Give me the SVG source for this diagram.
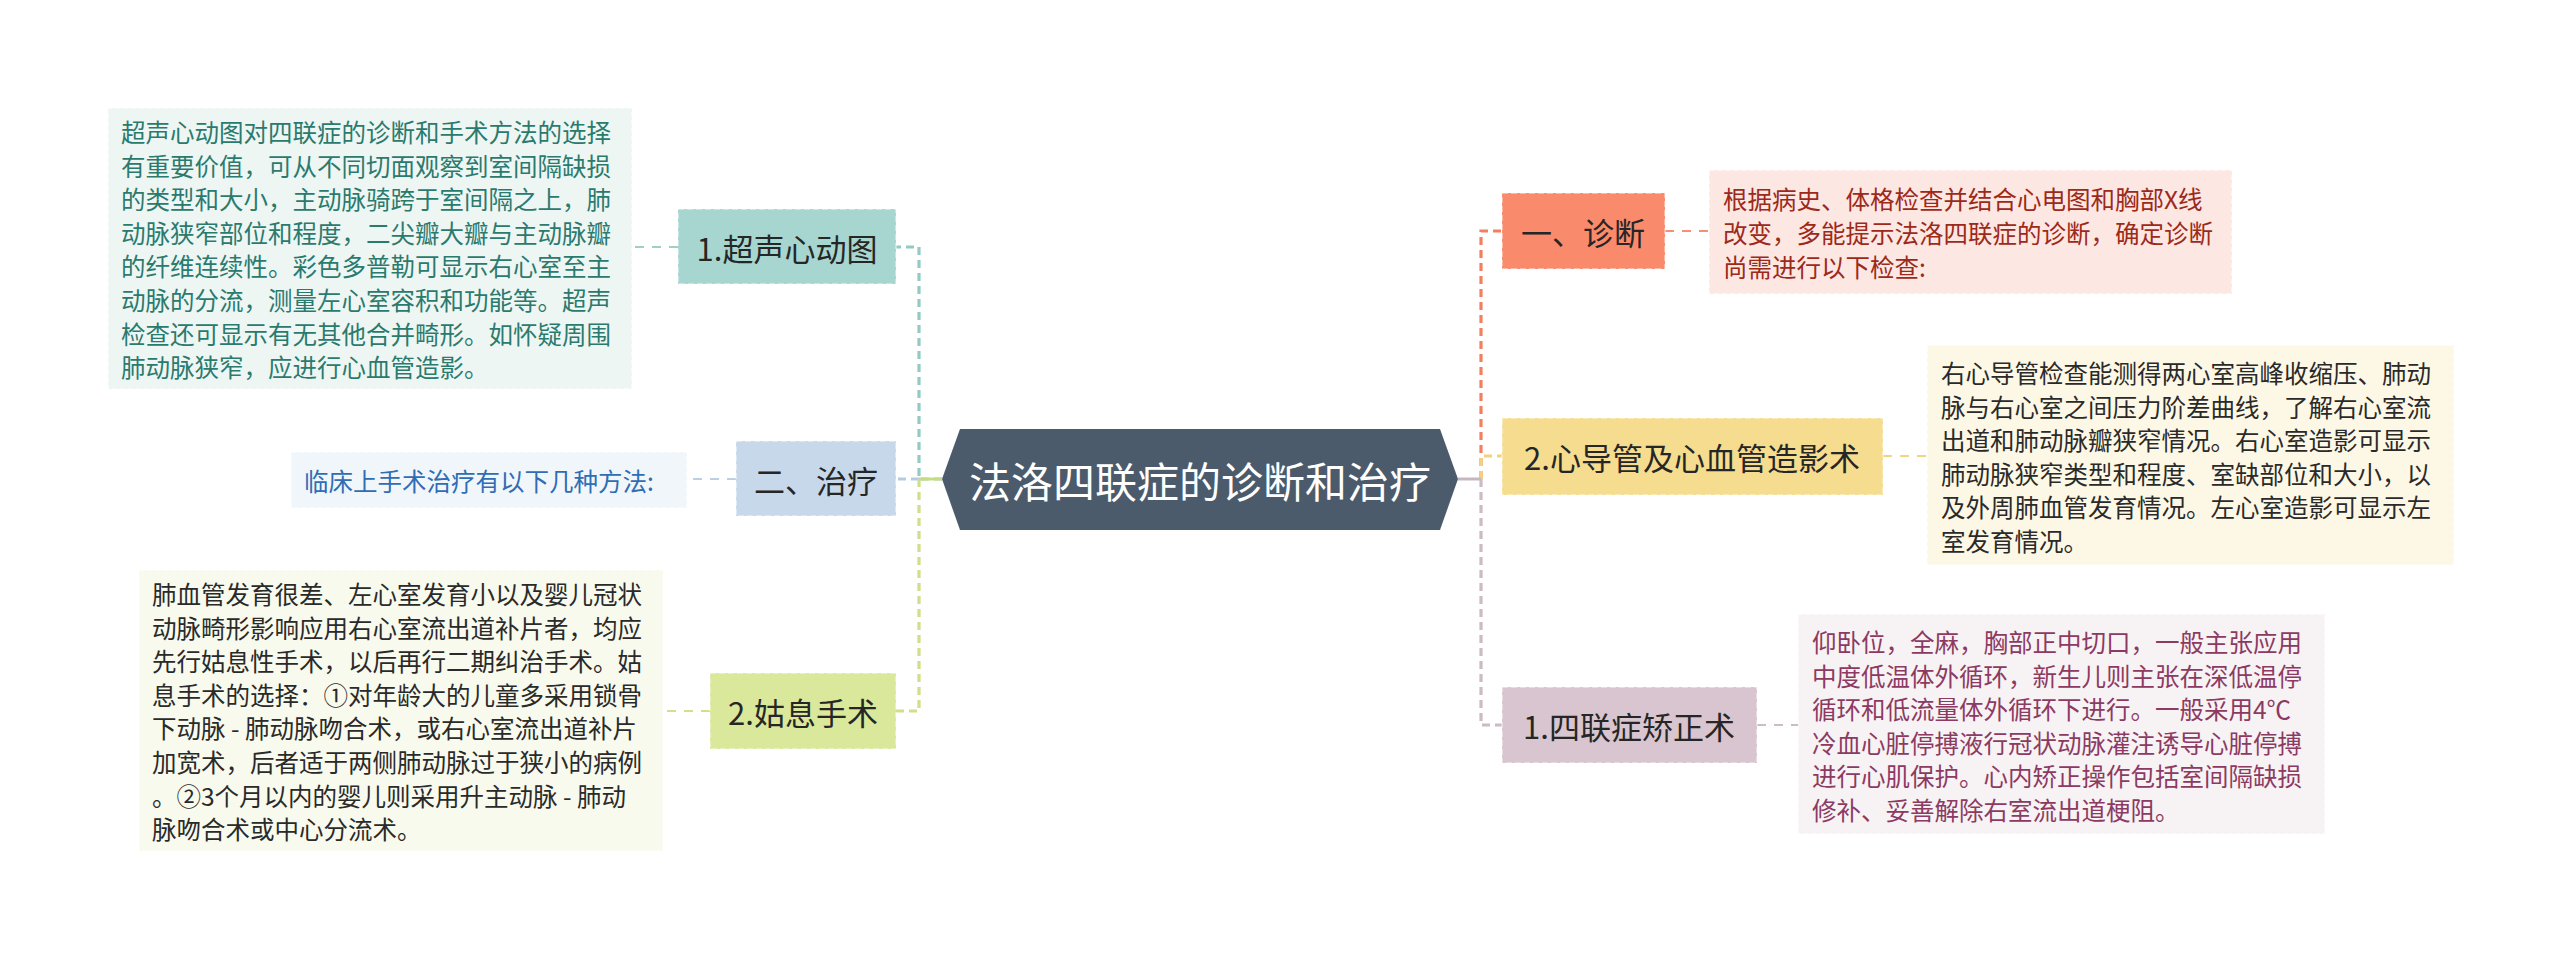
<svg xmlns="http://www.w3.org/2000/svg" width="2560" height="959" viewBox="0 0 2560 959">
<style>
text{font-family:"Noto Sans CJK SC","Noto Sans",sans-serif;}
.lbl{font-size:31px;fill:#262626;text-anchor:middle;dominant-baseline:central;}
.body{font-size:24.5px;}
.node{stroke:#ffffff;stroke-opacity:0.55;stroke-width:1.5;stroke-dasharray:6 3;}
.box{stroke:#ffffff;stroke-opacity:0.7;stroke-width:1.5;stroke-dasharray:5 3;}
.br{fill:none;stroke-width:3.2;stroke-dasharray:8 5;}
.lk{fill:none;stroke-width:2;stroke-dasharray:9 8;}
</style>
<rect width="2560" height="959" fill="#ffffff"/>
<g id="connectors">
  <path class="br" stroke="#93cbc3" d="M942,479 H919 V247 H896"/>
  <path class="br" stroke="#b6cbe2" d="M919,479 H896"/>
  <path class="br" stroke="#cfe08a" d="M919,479 V711 H896"/>
  <path d="M919,479 H942" stroke="#c8dc7e" stroke-width="3" fill="none"/>
  <path class="br" stroke="#f2805f" d="M1481,479 V231 H1502"/>
  <path class="br" stroke="#f1d37e" d="M1481,479 V456 H1502"/>
  <path class="br" stroke="#ccbac4" d="M1481,479 V725 H1502"/>
  <path d="M1458,479 H1481" stroke="#c6b6c0" stroke-width="3" fill="none"/>
  <path class="lk" stroke="#a0cfc8" d="M678,247 H632"/>
  <path class="lk" stroke="#bccfe4" d="M736,479 H687"/>
  <path class="lk" stroke="#d0e08e" d="M710,711 H663"/>
  <path class="lk" stroke="#f39077" d="M1665,231 H1709"/>
  <path class="lk" stroke="#f1d581" d="M1883,456 H1927"/>
  <path class="lk" stroke="#cdbcc6" d="M1757,725 H1798"/>
</g>
<g id="center">
  <polygon points="942,479 960,429 1440,429 1458,479 1440,530 960,530" fill="#4b5b6b"/>
  <text x="1200" y="479" font-size="42" fill="#ffffff" text-anchor="middle" dominant-baseline="central">法洛四联症的诊断和治疗</text>
</g>
<g id="n-echo">
  <rect class="node" x="678" y="209" width="218" height="75" fill="#a6d6cf"/>
  <text class="lbl" x="787" y="247">1.超声心动图</text>
</g>
<g id="t-echo">
  <rect class="box" x="108" y="108" width="524" height="281" fill="#eef6f4"/>
  <text class="body" fill="#2b7a6e" dominant-baseline="central">
    <tspan x="121" y="131">超声心动图对四联症的诊断和手术方法的选择</tspan>
    <tspan x="121" y="164.6">有重要价值，可从不同切面观察到室间隔缺损</tspan>
    <tspan x="121" y="198.2">的类型和大小，主动脉骑跨于室间隔之上，肺</tspan>
    <tspan x="121" y="231.8">动脉狭窄部位和程度，二尖瓣大瓣与主动脉瓣</tspan>
    <tspan x="121" y="265.4">的纤维连续性。彩色多普勒可显示右心室至主</tspan>
    <tspan x="121" y="299">动脉的分流，测量左心室容积和功能等。超声</tspan>
    <tspan x="121" y="332.6">检查还可显示有无其他合并畸形。如怀疑周围</tspan>
    <tspan x="121" y="366.2">肺动脉狭窄，应进行心血管造影。</tspan>
  </text>
</g>
<g id="n-treat">
  <rect class="node" x="736" y="441" width="160" height="75" fill="#c6d8ea"/>
  <text class="lbl" x="816" y="479">二、治疗</text>
</g>
<g id="t-treat">
  <rect class="box" x="291" y="452" width="396" height="56" fill="#f1f6fb"/>
  <text class="body" fill="#2f6db5" x="304" y="480" dominant-baseline="central">临床上手术治疗有以下几种方法:</text>
</g>
<g id="n-pall">
  <rect class="node" x="710" y="673" width="186" height="76" fill="#d9e89a"/>
  <text class="lbl" x="803" y="711">2.姑息手术</text>
</g>
<g id="t-pall">
  <rect class="box" x="139" y="570" width="524" height="281" fill="#f8faee"/>
  <text class="body" fill="#2a2a2a" dominant-baseline="central">
    <tspan x="152" y="593">肺血管发育很差、左心室发育小以及婴儿冠状</tspan>
    <tspan x="152" y="626.6">动脉畸形影响应用右心室流出道补片者，均应</tspan>
    <tspan x="152" y="660.2">先行姑息性手术，以后再行二期纠治手术。姑</tspan>
    <tspan x="152" y="693.8">息手术的选择：①对年龄大的儿童多采用锁骨</tspan>
    <tspan x="152" y="727.4">下动脉 - 肺动脉吻合术，或右心室流出道补片</tspan>
    <tspan x="152" y="761">加宽术，后者适于两侧肺动脉过于狭小的病例</tspan>
    <tspan x="152" y="794.6">。②3个月以内的婴儿则采用升主动脉 - 肺动</tspan>
    <tspan x="152" y="828.2">脉吻合术或中心分流术。</tspan>
  </text>
</g>
<g id="n-diag">
  <rect class="node" x="1502" y="193" width="163" height="76" fill="#f98a6c"/>
  <text class="lbl" x="1583" y="231">一、诊断</text>
</g>
<g id="t-diag">
  <rect class="box" x="1709" y="170" width="523" height="124" fill="#fde7e2"/>
  <text class="body" fill="#9c2a1a" dominant-baseline="central">
    <tspan x="1723" y="198.4">根据病史、体格检查并结合心电图和胸部X线</tspan>
    <tspan x="1723" y="232">改变，多能提示法洛四联症的诊断，确定诊断</tspan>
    <tspan x="1723" y="265.6">尚需进行以下检查:</tspan>
  </text>
</g>
<g id="n-cath">
  <rect class="node" x="1502" y="418" width="381" height="77" fill="#f5dc8e"/>
  <text class="lbl" x="1692" y="456">2.心导管及心血管造影术</text>
</g>
<g id="t-cath">
  <rect class="box" x="1927" y="345" width="527" height="220" fill="#fdf8e6"/>
  <text class="body" fill="#2a2a2a" dominant-baseline="central">
    <tspan x="1941" y="372">右心导管检查能测得两心室高峰收缩压、肺动</tspan>
    <tspan x="1941" y="405.6">脉与右心室之间压力阶差曲线，了解右心室流</tspan>
    <tspan x="1941" y="439.2">出道和肺动脉瓣狭窄情况。右心室造影可显示</tspan>
    <tspan x="1941" y="472.8">肺动脉狭窄类型和程度、室缺部位和大小，以</tspan>
    <tspan x="1941" y="506.4">及外周肺血管发育情况。左心室造影可显示左</tspan>
    <tspan x="1941" y="540">室发育情况。</tspan>
  </text>
</g>
<g id="n-corr">
  <rect class="node" x="1502" y="687" width="255" height="76" fill="#d8c5cf"/>
  <text class="lbl" x="1629" y="725">1.四联症矫正术</text>
</g>
<g id="t-corr">
  <rect class="box" x="1798" y="614" width="527" height="220" fill="#f7f2f4"/>
  <text class="body" fill="#8c3a62" dominant-baseline="central">
    <tspan x="1812" y="641">仰卧位，全麻，胸部正中切口，一般主张应用</tspan>
    <tspan x="1812" y="674.6">中度低温体外循环，新生儿则主张在深低温停</tspan>
    <tspan x="1812" y="708.2">循环和低流量体外循环下进行。一般采用4℃</tspan>
    <tspan x="1812" y="741.8">冷血心脏停搏液行冠状动脉灌注诱导心脏停搏</tspan>
    <tspan x="1812" y="775.4">进行心肌保护。心内矫正操作包括室间隔缺损</tspan>
    <tspan x="1812" y="809">修补、妥善解除右室流出道梗阻。</tspan>
  </text>
</g>
</svg>
